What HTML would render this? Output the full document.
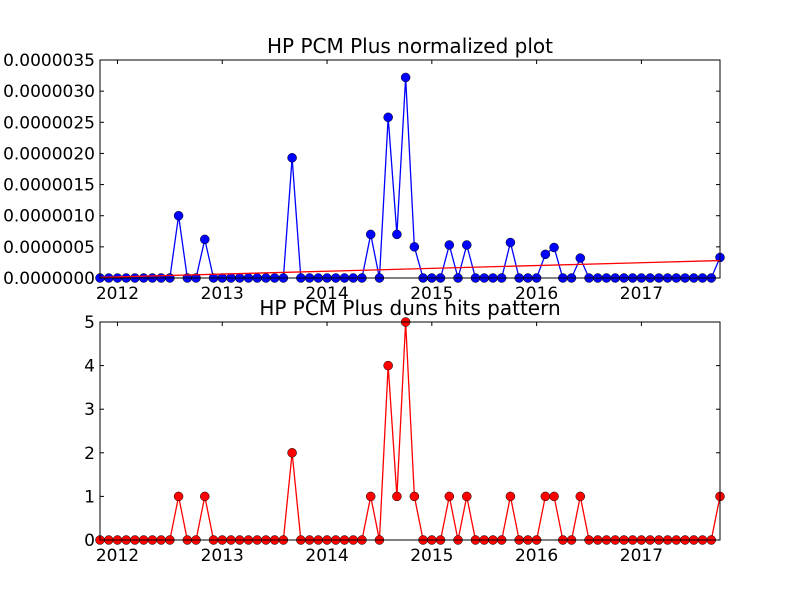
<!DOCTYPE html>
<html><head><meta charset="utf-8"><style>
body{margin:0;background:#fff}
svg text{font-family:"DejaVu Sans","Liberation Sans",sans-serif}
</style></head><body>
<svg id="chart" width="800" height="600" xmlns="http://www.w3.org/2000/svg"></svg>
<script>
const normValues=[0,0,0,0,0,0,0,0,0,1.0,0,0,0.62,0,0,0,0,0,0,0,0,0,1.93,0,0,0,0,0,0,0,0,0.7,0,2.58,0.7,3.22,0.5,0,0,0,0.53,0,0.53,0,0,0,0,0.57,0,0,0,0.38,0.49,0,0,0.32,0,0,0,0,0,0,0,0,0,0,0,0,0,0,0,0.33];
const hitValues=[0,0,0,0,0,0,0,0,0,1,0,0,1,0,0,0,0,0,0,0,0,0,2,0,0,0,0,0,0,0,0,1,0,4,1,5,1,0,0,0,1,0,1,0,0,0,0,1,0,0,0,1,1,0,0,1,0,0,0,0,0,0,0,0,0,0,0,0,0,0,0,1];
const trendValues=[0.01,0.28];
const yearLabels=["2012","2013","2014","2015","2016","2017"];
const topTicks=["0.0000000","0.0000005","0.0000010","0.0000015","0.0000020","0.0000025","0.0000030","0.0000035"];
const botTicks=["0","1","2","3","4","5"];
const svg=document.getElementById('chart');
const NS="http://www.w3.org/2000/svg";
function mk(t,a,p){const e=document.createElementNS(NS,t);for(const k in a)e.setAttribute(k,a[k]);(p||svg).appendChild(e);return e;}
const X0=100,X1=720,N=normValues.length;
const xs=i=>X0+(X1-X0)*i/(N-1);
function panel(top,bot,ymax,values,color,ticks,title,name){
  const ys=v=>bot-(bot-top)*v/ymax;
  const g=mk('g',{});
  
  
  const t=mk('text',{x:410,y:top-7,'text-anchor':'middle','font-size':'20'},g);t.textContent=title;
  
  
  ticks.forEach((lab,k)=>{const v=ymax*k/(ticks.length-1);const y=ys(v);
    mk('line',{x1:X0,x2:X0+4,y1:y,y2:y,stroke:'#000'},g);
    mk('line',{x1:X1,x2:X1-4,y1:y,y2:y,stroke:'#000'},g);
    const tt=mk('text',{x:X0-5,y:y+6,'text-anchor':'end','font-size':'17'},g);tt.textContent=lab;
    
    
  });
  yearLabels.forEach((lab,k)=>{const x=xs((+lab-2011)*12-10);
    mk('line',{x1:x,x2:x,y1:bot,y2:bot-4,stroke:'#000'},g);
    mk('line',{x1:x,x2:x,y1:top,y2:top+4,stroke:'#000'},g);
    const tt=mk('text',{x:x,y:bot+21,'text-anchor':'middle','font-size':'17'},g);tt.textContent=lab;
    
    
  });
  const clip=mk('clipPath',{id:'c'+name},g);mk('rect',{x:X0-6,y:top-6,width:X1-X0+12,height:bot-top+12},clip);
  const pg=mk('g',{'clip-path':'url(#c'+name+')'},g);
  const line=mk('polyline',{points:values.map((v,i)=>xs(i)+','+ys(v)).join(' '),fill:'none',stroke:color,'stroke-width':1.3},pg);
  
  
  values.forEach((v,i)=>{const c=mk('circle',{cx:xs(i),cy:ys(v),r:4.5,fill:color,stroke:'#000','stroke-width':0.5},pg);
    
    });
  return {ys,g,pg};
}
const p1=panel(60,278,3.5,normValues,'#0000ff',topTicks,'HP PCM Plus normalized plot','normalized-plot');
const tl=mk('line',{x1:X0,x2:X1,y1:p1.ys(trendValues[0]),y2:p1.ys(trendValues[1]),stroke:'#ff0000','stroke-width':1.3},p1.pg);


mk('rect',{x:X0,y:60,width:X1-X0,height:218,fill:'none',stroke:'#000'},p1.g);
const p2=panel(322,540,5,hitValues,'#ff0000',botTicks,'HP PCM Plus duns hits pattern','hits-plot');
mk('rect',{x:X0,y:322,width:X1-X0,height:218,fill:'none',stroke:'#000'},p2.g);
</script>
</body></html>
